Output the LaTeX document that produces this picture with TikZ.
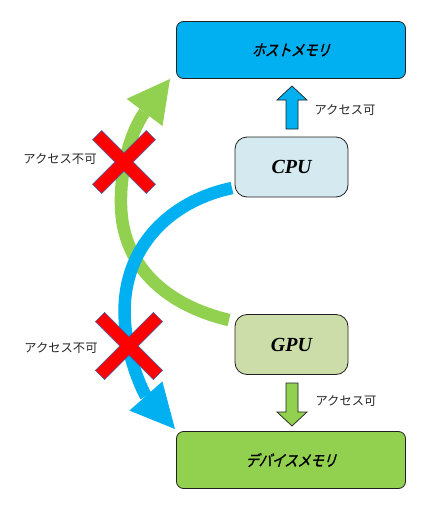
\documentclass[tikz,border=0pt]{standalone}
\usepackage{fontspec}
\setmainfont{Liberation Serif}
\newfontfamily\jp{Noto Sans CJK JP}
\newfontfamily\jpit[FakeSlant=0.28,FakeBold=1.6,FakeStretch=0.84]{Noto Sans CJK JP}
\usetikzlibrary{arrows.meta}
\definecolor{hostblue}{HTML}{00B0F0}
\definecolor{cpufill}{HTML}{D4EAF0}
\definecolor{gpufill}{HTML}{CCDDAA}
\definecolor{devgreen}{HTML}{92D050}
\definecolor{xred}{HTML}{FF0000}
\definecolor{xedge}{HTML}{3A5FA8}
\definecolor{edgedark}{HTML}{202020}
\tikzset{
  membox/.style={draw=edgedark, line width=0.8pt, rounded corners=7pt, minimum width=229pt, minimum height=57pt, inner sep=0pt, font=\jpit\fontsize{15.5}{16}\selectfont},
  pubox/.style={draw=edgedark, line width=0.8pt, rounded corners=12pt, minimum width=113pt, minimum height=60pt, inner sep=0pt, font=\bfseries\itshape\fontsize{20}{22}\selectfont},
  lbl/.style={font=\jp\fontsize{12.3}{13}\selectfont, text=black!85, inner sep=0pt},
  bigarrow/.style={line width=12.5pt},
  blockarrow/.pic={\draw[pic actions] (-6,0) -- (-6,-29) -- (-15,-29) -- (0,-43) -- (15,-29) -- (6,-29) -- (6,0) -- cycle;},
  xmark/.style={fill=xred, draw=xedge, line width=0.45pt}
}
\begin{document}
\begin{tikzpicture}[x=1pt,y=-1pt]
\useasboundingbox (0,0) rectangle (439,507);
% boxes
\node[membox, fill=hostblue] (host) at (291,50) {ホストメモリ};
\node[membox, fill=devgreen] (dev) at (291,460) {デバイスメモリ};
\node[pubox, fill=cpufill] (cpu) at (291.5,167) {CPU};
\node[pubox, fill=gpufill] (gpu) at (291.5,344.5) {GPU};
% block arrows
\pic[fill=hostblue, draw=edgedark, line width=0.7pt] at (292,129) {blockarrow};
\pic[fill=devgreen, draw=edgedark, line width=0.7pt, rotate=180] at (292,383) {blockarrow};
\node[lbl] (ok1) at (345,110) {アクセス可};
\node[lbl] (ok2) at (346,401) {アクセス可};
% curved arrows
\coordinate (gstart) at (229,320);
\coordinate (gtip) at (170,79);
\coordinate (bstart) at (232,188);
\coordinate (btip) at (175,429);
\draw[bigarrow, draw=devgreen, -{Triangle[length=42pt,width=45pt,line width=0pt]}]
  (gstart) .. controls (165,305) and (122,265) .. (121,205)
  .. controls (120,160) and (135,125) .. (gtip);
\draw[bigarrow, draw=hostblue, -{Triangle[length=44pt,width=44pt,line width=0pt]}]
  (bstart) .. controls (175,200) and (130,240) .. (125,300)
  .. controls (121,350) and (145,395) .. (btip);
% red crosses
\begin{scope}[shift={(124,162)},rotate=45]
\draw[xmark] (38,-6.5) -- (38,6.5) -- (6.5,6.5) -- (6.5,38) -- (-6.5,38) -- (-6.5,6.5) -- (-38,6.5) -- (-38,-6.5) -- (-6.5,-6.5) -- (-6.5,-38) -- (6.5,-38) -- (6.5,-6.5) -- cycle;
\end{scope}
\begin{scope}[shift={(129,346)},rotate=45]
\draw[xmark] (41,-6.5) -- (41,6.5) -- (6.5,6.5) -- (6.5,41) -- (-6.5,41) -- (-6.5,6.5) -- (-41,6.5) -- (-41,-6.5) -- (-6.5,-6.5) -- (-6.5,-41) -- (6.5,-41) -- (6.5,-6.5) -- cycle;
\end{scope}
\node[lbl] (ng1) at (60,159) {アクセス不可};
\node[lbl] (ng2) at (61,348) {アクセス不可};
\end{tikzpicture}
\end{document}
